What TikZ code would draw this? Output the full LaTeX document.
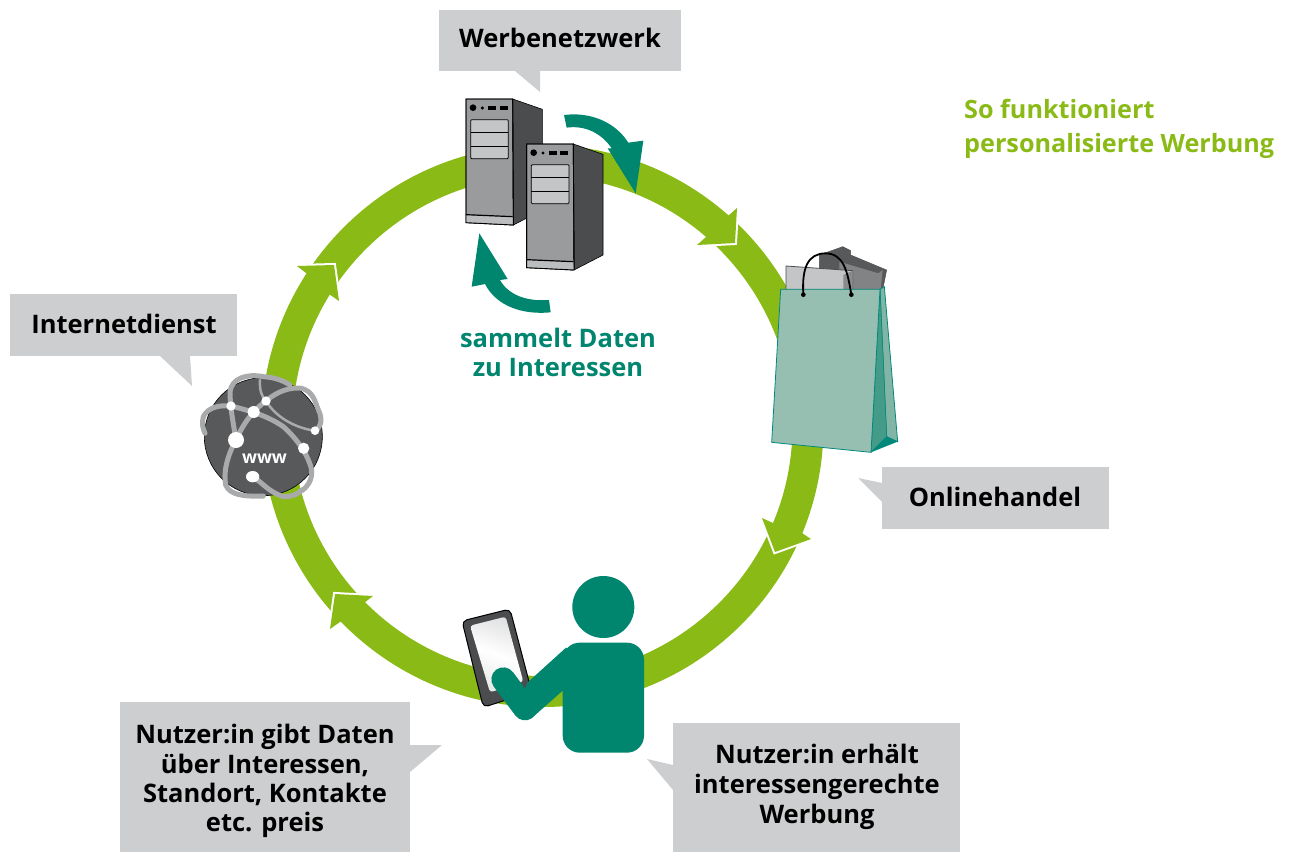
\documentclass[tikz,border=0pt]{standalone}
\usepackage{fontspec}
\setmainfont{Open Sans}
\definecolor{ringgreen}{HTML}{8ABA15}
\definecolor{teal}{HTML}{00856F}
\definecolor{boxgrey}{HTML}{CDCED0}
\definecolor{srvfront}{HTML}{9A9B9D}
\definecolor{srvside}{HTML}{4B4C4E}
\definecolor{srvbay}{HTML}{C4C5C7}
\definecolor{bagfront}{HTML}{96BFB2}
\definecolor{bagedge}{HTML}{00897B}
\definecolor{bagside}{HTML}{439B88}
\definecolor{bagright}{HTML}{82B5A6}
\definecolor{globedark}{HTML}{58595B}
\definecolor{globeline}{HTML}{A9AAAC}
\tikzset{
  callout/.style={fill=boxgrey},
  boxtext/.style={font=\fontsize{25.5}{30}\selectfont\bfseries,align=center,text=black,inner sep=0pt},
  boxtextb/.style={font=\fontsize{25.5}{29.2}\selectfont\bfseries,align=center,text=black,inner sep=0pt},
  heading/.style={font=\fontsize{25.2}{34}\selectfont\bfseries,align=left,text=ringgreen,inner sep=0pt,anchor=north west},
  tealtext/.style={font=\fontsize{25.5}{29}\selectfont\bfseries,align=center,text=teal,inner sep=0pt},
  gline/.style={draw=globeline,line width=5pt,line cap=round,line join=round},
  thinline/.style={draw=globeline,line width=2.5pt,line cap=round},
  dot/.style={fill=white},
}
\newcommand{\serverdraw}{%
  \fill[srvside,draw=black,line width=.6pt] (218,57) -- (307,88) -- (307,390) -- (220,435) -- cycle;
  \fill[srvfront,draw=black,line width=.9pt] (78,57) -- (218,57) -- (220,435) -- (78,428) -- cycle;
  \fill[srvbay!80!srvfront] (78,405) -- (218,410) -- (220,435) -- (78,428) -- cycle;
  \draw[black,line width=1.2pt] (78,404) -- (218,410);
  \draw[black,line width=.9pt] (78,428) -- (220,435) -- (218,57) -- (78,57) -- cycle;
  \fill[black] (99,83) circle[radius=10];
  \fill[black] (127,84) circle[radius=5];
  \fill[black] (144,77) rectangle (168,89);
  \fill[black] (179,77) rectangle (203,89);
  \draw[black,fill=srvbay,line width=.8pt,rounded corners=1pt] (92,119) rectangle (205,236);
  \draw[black,line width=.8pt] (92,156) -- (205,156) (92,198) -- (205,198);
}
\newcommand{\ringhead}[5]{%
  \draw[white,line width=4pt] #1 -- #2 -- #3;
  \fill[ringgreen] #1 -- #2 -- #3 -- #4 -- #5 -- cycle;
}
\begin{document}
\begin{tikzpicture}[x=1pt,y=-1pt]
\useasboundingbox (0,0) rectangle (1290,852);
% ring
\draw[ringgreen,line width=31pt] (542.5,426) circle[radius=265.5];
\ringhead{(737,208)}{(735,243)}{(697,245)}{(706,237)}{(728,216)}
\ringhead{(811,539)}{(775,552)}{(762,518)}{(773,523)}{(802,533)}
\ringhead{(330,629)}{(335,594)}{(373,596)}{(364,603)}{(340,622)}
\ringhead{(297,266)}{(334,265)}{(339,301)}{(329,294)}{(306,273)}
% callouts
\fill[callout] (439,10) rectangle (681,71);
\fill[callout] (515,71) -- (540,92) -- (540,71) -- cycle;
\fill[callout] (10,294) rectangle (237,356);
\fill[callout] (160,356) -- (192,386) -- (190,356) -- cycle;
\fill[callout] (882,467) rectangle (1109,529);
\fill[callout] (882,483) -- (858,478) -- (882,502) -- cycle;
\fill[callout] (120,702) rectangle (410,852);
\fill[callout] (410,745) -- (442,745) -- (410,772) -- cycle;
\fill[callout] (673,723) rectangle (960,852);
\fill[callout] (673,790) -- (647,759) -- (673,765) -- cycle;
\node[boxtext] (werbe) at (560,38) {Werbenetzwerk};
\node[boxtext] (dienst) at (124,324) {Internetdienst};
\node[boxtext] (handel) at (995,497) {Onlinehandel};
\node[boxtextb] (gibt) at (265,781) {Nutzer:in gibt Daten\\über Interessen,\\Standort, Kontakte\\etc. preis};
\node[boxtext] (erhaelt) at (817,787) {Nutzer:in erhält\\interessengerechte\\Werbung};
\node[heading] (titel) at (964,99) {So funktioniert\\personalisierte Werbung};
\node[tealtext] (sammelt) at (558,352) {sammelt Daten\\zu Interessen};
% servers
\begin{scope}[shift={(440,80)},scale=1/3]
  \serverdraw
  \begin{scope}[shift={(182,135)}]
    \serverdraw
  \end{scope}
  % teal arrows
  \fill[teal] (372,105) .. controls (450,95) and (525,125) .. (565,188) -- (610,182) -- (587,340) -- (503,205) -- (515,205)
     .. controls (485,160) and (435,135) .. (380,143) -- cycle;
  \fill[teal] (332,697) .. controls (250,705) and (170,680) .. (135,612) -- (95,620) -- (118,460) -- (203,597) -- (180,600)
     .. controls (205,645) and (260,665) .. (327,660) -- cycle;
\end{scope}
% bag
\begin{scope}[shift={(690,190)},scale=1/3]
  \fill[globedark,draw=black!70,line width=.4pt] (388,195) -- (458,170) -- (482,182) -- (482,195) -- (590,240) -- (578,300) -- (388,300) -- cycle;
  \fill[globedark!75!white] (448,215) -- (565,250) -- (578,240) -- (572,300) -- (448,300) -- cycle;
  \draw[srvside,line width=.8pt,fill=srvbay] (288,228) -- (488,242) -- (488,300) -- (288,300) -- cycle;
  \fill[globedark!70!white] (460,255) -- (488,242) -- (488,300) -- (460,300) -- cycle;
  \fill[bagright,draw=bagedge,line width=.8pt] (570,298) -- (583,290) -- (623,755) -- (590,740) -- cycle;
  \fill[bagside,draw=bagedge,line width=.5pt] (570,298) -- (590,740) -- (543,787) -- cycle;
  \fill[bagedge] (543,787) -- (590,740) -- (623,755) -- cycle;
  \fill[bagfront,draw=bagedge,line width=.8pt] (272,298) -- (570,298) -- (543,787) -- (245,757) -- cycle;
  \draw[black,line width=1.8pt,line cap=round] (340,314) .. controls (335,230) and (355,192) .. (405,190) .. controls (460,190) and (472,240) .. (484,314);
  \fill[black] (340,314) circle[radius=7];
  \fill[black] (484,314) circle[radius=7];
\end{scope}
% globe
\begin{scope}[shift={(180,360)},scale=1/3]
  \fill[globedark,draw=black,line width=.6pt] (250,230) circle[radius=177];
  \draw[gline] (168,240) .. controls (160,190) and (150,140) .. (150,95) .. controls (155,55) and (200,40) .. (250,50) .. controls (285,52) and (310,62) .. (330,75);
  \draw[gline] (153,138) .. controls (120,135) and (85,140) .. (70,170) .. controls (65,190) and (68,205) .. (75,220);
  \draw[gline] (168,240) .. controls (190,190) and (220,150) .. (258,123) .. controls (290,95) and (330,80) .. (365,85) .. controls (400,95) and (405,125) .. (415,150) .. controls (428,175) and (425,200) .. (405,212);
  \draw[gline] (153,138) .. controls (200,150) and (260,165) .. (310,200) .. controls (350,235) and (385,285) .. (395,330) .. controls (398,360) and (380,385) .. (360,395);
  \draw[gline] (168,240) .. controls (140,290) and (130,340) .. (137,375) .. controls (150,405) and (190,410) .. (250,408);
  \draw[gline] (218,350) .. controls (250,370) and (265,395) .. (310,410) .. controls (335,410) and (350,405) .. (365,390);
  \draw[thinline] (240,60) .. controls (238,90) and (245,110) .. (258,123) .. controls (290,175) and (350,205) .. (405,212);
  \fill[dot] (153,138) circle[radius=14];
  \fill[dot] (221,156) circle[radius=18];
  \fill[dot] (258,123) circle[radius=14];
  \fill[dot] (168,240) circle[radius=24];
  \fill[dot] (371,265) circle[radius=17];
  \fill[dot] (405,212) circle[radius=13];
  \fill[dot] (218,350) ellipse[x radius=20,y radius=17];
\end{scope}
\node[font=\fontsize{17.5}{17.5}\selectfont\bfseries,text=white,inner sep=0pt] (www) at (264.5,459) {www};
% tablet
\begin{scope}[shift={(440,560)},scale=1/3]
  \fill[srvside,draw=black,line width=1pt,rounded corners=5pt] (66,183) -- (210,147) -- (275,395) -- (130,442) -- cycle;
  \shade[top color=srvbay!50!white,bottom color=srvbay!40!white,middle color=white,shading angle=-20,rounded corners=3pt] (90,197) -- (197,170) -- (250,365) -- (150,397) -- cycle;
  % person
  \fill[teal] (490,141) circle[radius=93];
  \fill[teal,rounded corners=17pt] (368,578) -- (368,248) -- (612,248) -- (612,578) -- cycle;
  \draw[teal,line width=24pt,line cap=round,line join=round] (190,358) -- (255,445);
  \fill[teal] (262,368) -- (378,263) -- (420,300) -- (368,392) -- (280,470) -- (240,430) -- cycle;
\end{scope}
\end{tikzpicture}
\end{document}
